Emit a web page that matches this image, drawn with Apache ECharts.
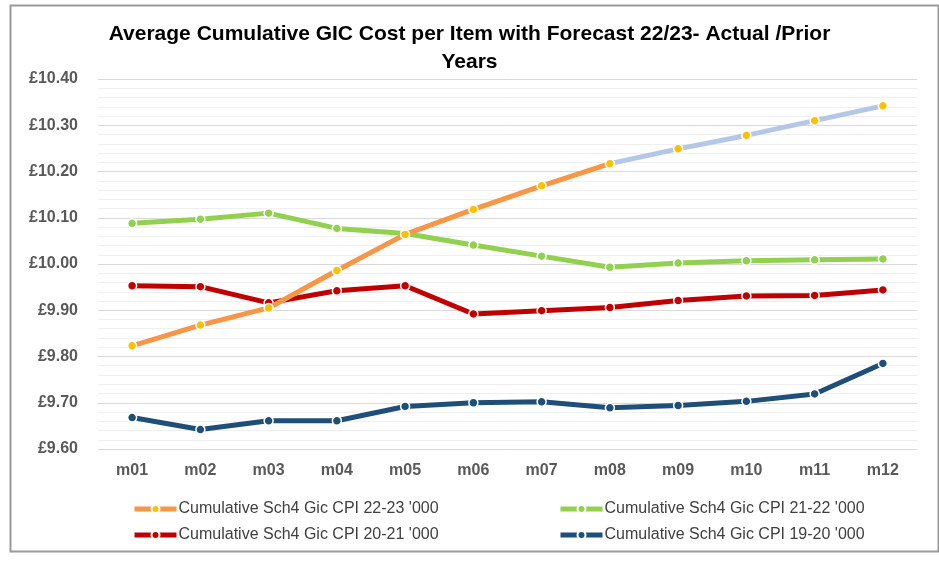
<!DOCTYPE html>
<html>
<head>
<meta charset="utf-8">
<script src="https://cdn.jsdelivr.net/npm/echarts@6/dist/echarts.min.js"></script>
<style>html,body{margin:0;padding:0;background:#fff;}#c{width:939px;height:562px;}</style>
</head>
<body>
<div id="c"></div>
<script>
const categories = ['m01','m02','m03','m04','m05','m06','m07','m08','m09','m10','m11','m12'];
const cpi2223Actual = [9.823, 9.868, 9.905, 9.986, 10.064, 10.118, 10.169, 10.217, null, null, null, null];
const cpi2223Forecast = [null, null, null, null, null, null, null, 10.217, 10.249, 10.278, 10.310, 10.342];
const cpi2122 = [10.088, 10.097, 10.110, 10.077, 10.066, 10.041, 10.017, 9.993, 10.002, 10.007, 10.009, 10.011];
const cpi2021 = [9.953, 9.951, 9.916, 9.942, 9.953, 9.892, 9.899, 9.906, 9.921, 9.931, 9.932, 9.944];
const cpi1920 = [9.668, 9.642, 9.661, 9.661, 9.692, 9.700, 9.702, 9.689, 9.694, 9.703, 9.719, 9.785];
const names = ["Cumulative Sch4 Gic CPI 22-23 '000", "Cumulative Sch4 Gic CPI 21-22 '000", "Cumulative Sch4 Gic CPI 20-21 '000", "Cumulative Sch4 Gic CPI 19-20 '000"];

const FONT = 'Liberation Sans';
function lineSeries(name, data, color, markerColor, z) {
  return {
    name: name, type: 'line', data: data, z: z,
    symbol: 'circle', symbolSize: 9, showSymbol: true,
    lineStyle: { color: color, width: 5 },
    itemStyle: { color: markerColor, borderColor: '#ffffff', borderWidth: 1.5 },
    emphasis: { disabled: true }, animation: false
  };
}
const legendBase = {
  orient: 'vertical', top: 496, itemGap: 10,
  itemWidth: 42, itemHeight: 10,
  lineStyle: { width: 5 },
  textStyle: { fontFamily: FONT, fontSize: 16, color: '#404040', padding: [0, 0, 0, -3] }
};
const chart = echarts.init(document.getElementById('c'));
chart.setOption({
  backgroundColor: '#ffffff',
  animation: false,
  title: {
    text: 'Average Cumulative GIC Cost per Item with Forecast 22/23- Actual /Prior\nYears',
    left: 'center', top: 15,
    textStyle: { fontFamily: FONT, fontSize: 21, fontWeight: 'bold', color: '#000', lineHeight: 28 }
  },
  graphic: [{
    type: 'rect', left: 8, top: 3, silent: true,
    shape: { width: 928, height: 546 },
    style: { fill: 'none', stroke: '#9a9a9a', lineWidth: 2 }
  }],
  legend: [
    Object.assign({}, legendBase, { data: [names[0], names[2]], left: 127 }),
    Object.assign({}, legendBase, { data: [names[1], names[3]], left: 553 })
  ],
  grid: { left: 98, right: 22, top: 79, bottom: 113 },
  xAxis: {
    type: 'category', data: categories, boundaryGap: true,
    axisLine: { show: false }, axisTick: { show: false },
    axisLabel: { fontFamily: FONT, fontSize: 16, fontWeight: 'bold', color: '#595959', margin: 14 }
  },
  yAxis: {
    type: 'value', min: 9.6, max: 10.4, interval: 0.1,
    axisLine: { show: false }, axisTick: { show: false },
    axisLabel: { fontFamily: FONT, fontSize: 16, fontWeight: 'bold', color: '#595959', margin: 20,
      formatter: v => '£' + v.toFixed(2) },
    splitLine: { lineStyle: { color: '#d9d9d9', width: 1 } },
    minorTick: { show: false, splitNumber: 5 },
    minorSplitLine: { show: true, lineStyle: { color: '#efefef', width: 1 } }
  },
  series: [
    lineSeries(names[3], cpi1920, '#1f4e79', '#1f4e79', 2),
    lineSeries(names[2], cpi2021, '#c00000', '#c00000', 3),
    lineSeries(names[1], cpi2122, '#92d050', '#92d050', 4),
    lineSeries('forecast', cpi2223Forecast, '#b4c7e7', '#ffc000', 5),
    lineSeries(names[0], cpi2223Actual, '#f79646', '#ffc000', 6)
  ]
});
</script>
</body>
</html>
